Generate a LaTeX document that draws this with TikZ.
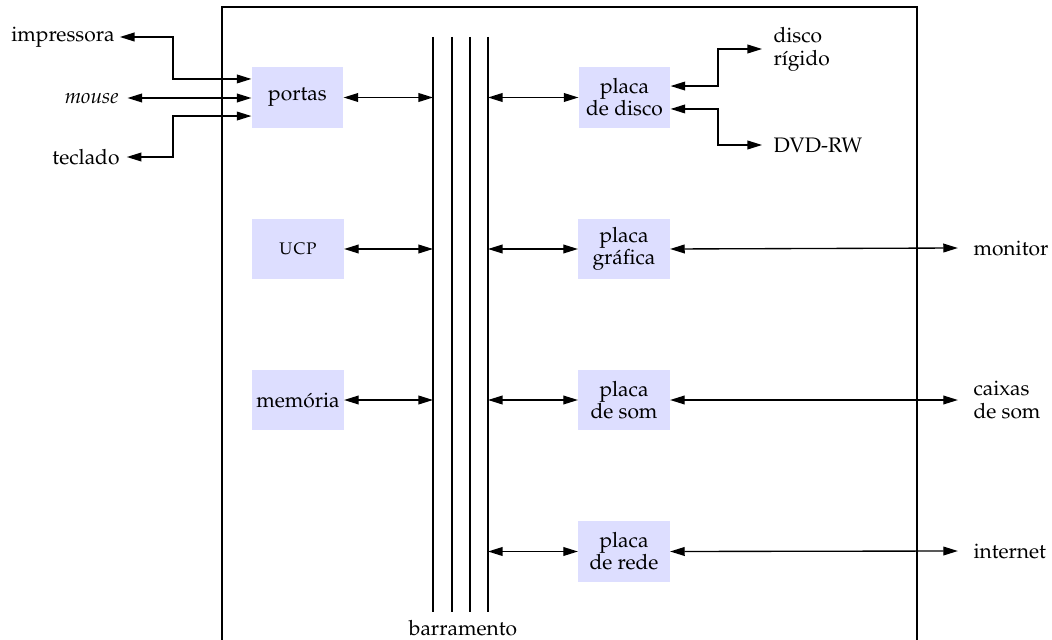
\documentclass[tikz,border=0pt]{standalone}
\usepackage[T1]{fontenc}
\usepackage{mathpazo}
\usetikzlibrary{arrows.meta}
\definecolor{boxfill}{RGB}{221,222,255}
\begin{document}
\begin{tikzpicture}[x=0.41pt,y=-0.41pt,
  unit/.style={fill=boxfill, minimum width=37.4pt, minimum height=25pt,
    inner sep=0pt, align=center, font=\fontsize{8.6}{9}\selectfont},
  ext/.style={inner sep=0pt, font=\fontsize{8.6}{9.4}\selectfont},
  link/.style={line width=0.55pt, {Triangle[length=6pt,width=3.6pt]}-{Triangle[length=6pt,width=3.6pt]}},
  busline/.style={line width=0.5pt},
  frame/.style={line width=0.5pt}]

\path[use as bounding box] (0,0) rectangle (1052,640);
\clip (0,0) rectangle (1052,640);

% computer case
\draw[frame] (222,7) rectangle (917,670);

% system bus: four parallel lines
\foreach \n/\x in {A/433,B/452,C/470,D/488}{
  \coordinate (bus\n top) at (\x,37);
  \coordinate (bus\n bot) at (\x,612);
  \draw[busline] (bus\n top) -- (bus\n bot);
}
\node[ext, anchor=base] (barr) at (463,635) {barramento};

% units on the left of the bus
\node[unit] (portas) at (297.5,97.5) {portas};
\node[unit] (ucp)    at (298,249)    {\textsc{ucp}};
\node[unit] (mem)    at (298,400)    {memória};

% controller boards on the right of the bus
\node[unit] (disco) at (624.5,97.5) {placa\\de disco};
\node[unit] (graf)  at (624,249)    {placa\\gráfica};
\node[unit] (som)   at (624,400)    {placa\\de som};
\node[unit] (rede)  at (624,551.5)  {placa\\de rede};

% bus connections
\draw[link] (portas.east) -- (portas.east -| busAtop);
\draw[link] (ucp.east)    -- (ucp.east -| busAtop);
\draw[link] (mem.east)    -- (mem.east -| busAtop);
\draw[link] (busDtop |- disco.west) -- (disco.west);
\draw[link] (busDtop |- graf.west)  -- (graf.west);
\draw[link] (busDtop |- som.west)   -- (som.west);
\draw[link] (busDtop |- rede.west)  -- (rede.west);

% external devices on the left
\node[ext, anchor=east] (impr) at (115,37)  {impressora};
\node[ext, anchor=east] (mouse) at (119,98) {\textit{mouse}};
\node[ext, anchor=east] (tecl) at (120,157) {teclado};

\coordinate (jL) at (173,97.5);
\coordinate (pinA) at ([yshift=7.6pt]portas.west);
\coordinate (pinC) at ([yshift=-7.6pt]portas.west);

\draw[link] ([xshift=2pt]impr.east) -| (jL |- pinA) -- (pinA);
\draw[link] ([xshift=3.5pt]mouse.east) -- (mouse.east -| portas.west);
\draw[link] ([xshift=2.8pt]tecl.east) -| (jL |- pinC) -- (pinC);

% external devices on the right
\node[ext, anchor=west, align=left] (hd)  at (773,49)  {disco\\rígido};
\node[ext, anchor=west]             (dvd) at (773,145) {DVD-RW};
\node[ext, anchor=west]             (mon) at (973,248) {monitor};
\node[ext, anchor=west, align=left] (cx)  at (973,400) {caixas\\de som};
\node[ext, anchor=west]             (net) at (973,551) {internet};

\coordinate (jR) at (718,97.5);
\coordinate (poA) at ([yshift=4.7pt]disco.east);
\coordinate (poC) at ([yshift=-4.7pt]disco.east);

\draw[link] (poA) -| (jR |- hd) -- ([xshift=-4.5pt]hd.west);
\draw[link] (poC) -| (jR |- dvd) -- ([xshift=-4.5pt]dvd.west);
\draw[link] (graf.east) -- ([xshift=-6.2pt]mon.west);
\draw[link] (som.east)  -- ([xshift=-6.2pt]cx.west);
\draw[link] (rede.east) -- ([xshift=-6.2pt]net.west);
\end{tikzpicture}
\end{document}
